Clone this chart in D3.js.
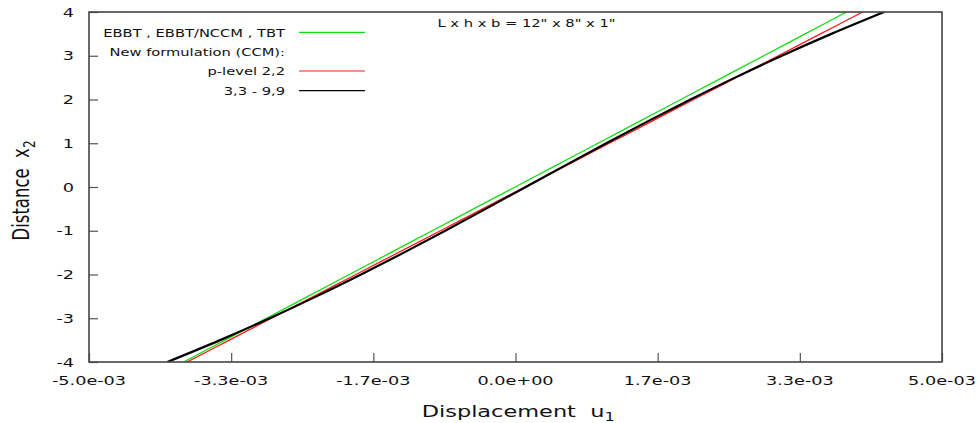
<!DOCTYPE html>
<html>
<head>
<meta charset="utf-8">
<script src="https://cdn.jsdelivr.net/npm/d3@7"></script>
<style>
  html, body { margin: 0; padding: 0; background: #fff; }
  svg { display: block; font-family: "DejaVu Sans", sans-serif; }
  svg text { white-space: pre; }
</style>
</head>
<body>
<svg id="chart" width="979" height="423"></svg>
<script>
// Through-thickness coordinate x2 (sample stations)
const x2Values = [-4, -3.5, -3, -2.5, -2, -1.5, -1, -0.5, 0, 0.5, 1, 1.5, 2, 2.5, 3, 3.5, 4];

// Axial displacement u1 for each theory at the stations above
const u1Classical = [-3.891e-3, -3.405e-3, -2.920e-3, -2.434e-3, -1.948e-3, -1.462e-3, -0.977e-3, -0.491e-3, -0.005e-3,
                     0.481e-3, 0.967e-3, 1.452e-3, 1.938e-3, 2.424e-3, 2.910e-3, 3.395e-3, 3.881e-3];
const u1Level22 = [-3.850e-3, -3.355e-3, -2.860e-3, -2.365e-3, -1.870e-3, -1.375e-3, -0.880e-3, -0.385e-3, 0.110e-3,
                   0.605e-3, 1.100e-3, 1.595e-3, 2.090e-3, 2.585e-3, 3.080e-3, 3.575e-3, 4.070e-3];
const u1Level33to99 = [-4.081e-3, -3.463e-3, -2.882e-3, -2.333e-3, -1.811e-3, -1.309e-3, -0.824e-3, -0.349e-3, 0.120e-3,
                       0.589e-3, 1.064e-3, 1.549e-3, 2.051e-3, 2.573e-3, 3.122e-3, 3.703e-3, 4.321e-3];

// Axis ticks
const xTickValues = [-5.0e-3, -3.3333e-3, -1.6667e-3, 0, 1.6667e-3, 3.3333e-3, 5.0e-3];
const xTickLabels = ["-5.0e-03", "-3.3e-03", "-1.7e-03", "0.0e+00", "1.7e-03", "3.3e-03", "5.0e-03"];
const yTickValues = [-4, -3, -2, -1, 0, 1, 2, 3, 4];

// Legend entries
const legendLabels = ["EBBT , EBBT/NCCM , TBT", "New formulation (CCM):", "p-level 2,2", "3,3 - 9,9"];
const titleText = "L x h x b = 12\" x 8\" x 1\"";

const svg = d3.select("#chart");
const plot = { left: 89, right: 942, top: 12, bottom: 362 };
const stretch = 1.36; // horizontal glyph stretch used throughout the figure

const x = d3.scaleLinear().domain([-5e-3, 5e-3]).range([plot.left, plot.right]);
const y = d3.scaleLinear().domain([-4, 4]).range([plot.bottom, plot.top]);

// text helper: anchor point, horizontally stretched glyphs
function label(g, px, py, txt, size, anchor) {
  const t = g.append("g").attr("transform", `translate(${px},${py}) scale(${stretch},1)`)
    .append("text")
    .attr("font-size", size)
    .attr("text-anchor", anchor || "start")
    .attr("fill", "#111");
  if (txt !== null) t.text(txt);
  return t;
}

// clip
svg.append("defs").append("clipPath").attr("id", "plotclip")
  .append("rect")
  .attr("x", plot.left).attr("y", plot.top)
  .attr("width", plot.right - plot.left).attr("height", plot.bottom - plot.top);

// Bottom axis (inward ticks, labels below)
const xAxis = d3.axisBottom(x).tickValues(xTickValues).tickSize(-9).tickFormat(() => "");
const gx = svg.append("g").attr("transform", `translate(0,${plot.bottom})`).call(xAxis);
gx.select(".domain").remove();
gx.selectAll(".tick line").attr("stroke", "#555").attr("stroke-width", 1.2);
const gxl = svg.append("g");
xTickValues.forEach((v, i) => label(gxl, x(v), 385, xTickLabels[i], 13, "middle"));

// Left axis
const yAxis = d3.axisLeft(y).tickValues(yTickValues).tickSize(-9).tickFormat(() => "");
const gy = svg.append("g").attr("transform", `translate(${plot.left},0)`).call(yAxis);
gy.select(".domain").remove();
gy.selectAll(".tick line").attr("stroke", "#555").attr("stroke-width", 1.2);
const gyl = svg.append("g");
yTickValues.forEach(v => label(gyl, 74, y(v) + 4.7, String(v), 13, "end"));

// Curves
const line = d3.line()
  .x(d => x(d[0]))
  .y(d => y(d[1]))
  .curve(d3.curveCatmullRom.alpha(0.5));

const series = [
  { values: u1Classical, color: "#11dd11", width: 1.3 },
  { values: u1Level22, color: "#ff1a1a", width: 1.3 },
  { values: u1Level33to99, color: "#000", width: 2.2 }
];
const curves = svg.append("g").attr("clip-path", "url(#plotclip)");
series.forEach(s => {
  curves.append("path")
    .datum(s.values.map((u, i) => [u, x2Values[i]]))
    .attr("fill", "none")
    .attr("stroke", s.color)
    .attr("stroke-width", s.width)
    .attr("d", line);
});

// Border
svg.append("rect")
  .attr("x", plot.left).attr("y", plot.top)
  .attr("width", plot.right - plot.left).attr("height", plot.bottom - plot.top)
  .attr("fill", "none").attr("stroke", "#444").attr("stroke-width", 1.6);

// Legend
const legend = svg.append("g");
const legendRows = [32.3, 51.7, 71, 90.7];
const legendColors = ["#11dd11", null, "#ff1a1a", "#000"];
legendLabels.forEach((t, i) => {
  label(legend, 285, legendRows[i] + 4.3, t, 10.8, "end");
  if (legendColors[i]) {
    legend.append("line")
      .attr("x1", 299).attr("x2", 365)
      .attr("y1", legendRows[i]).attr("y2", legendRows[i])
      .attr("stroke", legendColors[i]).attr("stroke-width", 1.2);
  }
});

// Title inside the plot
label(svg, 526.5, 27.3, titleText, 10.8, "middle");

// Axis titles
const xt = label(svg, 421.7, 417, null, 16.5, "start");
xt.append("tspan").text("Displacement  u");
xt.append("tspan").attr("font-size", 12).attr("dy", 4).text("1");

const ytg = svg.append("g").attr("transform", `translate(29.3,240.5) scale(${stretch},1) rotate(-90)`);
const yt = ytg.append("text").attr("font-size", 16.5).attr("fill", "#111");
yt.append("tspan").text("Distance  x");
yt.append("tspan").attr("font-size", 12).attr("dy", 4).text("2");
</script>
</body>
</html>
